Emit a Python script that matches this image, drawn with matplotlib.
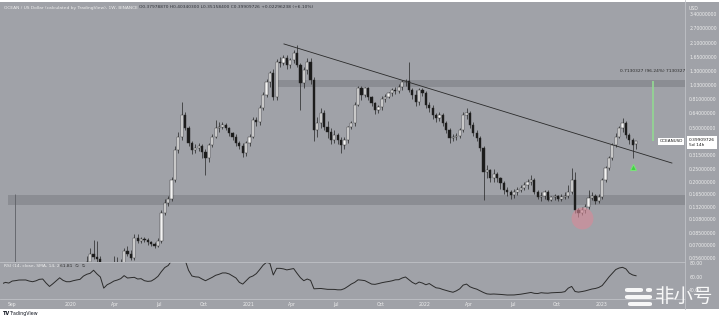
import pandas as pd
import matplotlib
matplotlib.use("Agg")
import matplotlib.pyplot as plt
import matplotlib.dates as mdates
import matplotlib.transforms as mtransforms
from matplotlib.patches import FancyBboxPatch, Rectangle

W, H = 719, 318

# weekly OCEAN/USD candles, first candle opens 2020-02-03
candle_start = "2020-02-03"
opens = [
    .050, .052, .060, .057, .055, .045, .025, .028, .032, .036,
    .040, .050, .063, .060, .056, .078, .075, .077, .076, .073,
    .071, .069, .074, .120, .142, .150, .208, .345, .430, .620,
    .500, .390, .345, .355, .370, .335, .300, .375, .430, .500,
    .510, .526, .500, .460, .430, .390, .370, .330, .390, .430,
    .570, .555, .700, .870, 1.085, 1.26, .840, 1.52, 1.50, 1.63,
    1.44, 1.57, 1.77, 1.44, 1.06, 1.33, 1.52, 1.12, .483, .544,
    .640, .510, .470, .410, .444, .410, .375, .410, .505, .544,
    .740, .980, .870, .980, .840, .760, .680, .710, .820, .840,
    .900, .950, .930, 1.00, 1.085, 1.10, .950, .870, .780, .950,
    .900, .740, .700, .620, .590, .620, .544, .483, .420, .430,
    .435, .483, .620, .640, .526, .460, .425, .357, .238, .245,
    .215, .232, .215, .198, .176, .170, .162, .170, .176, .182,
    .190, .200, .208, .170, .156, .160, .170, .149, .156, .158,
    .152, .157, .160, .170, .208, .126, .119, .126, .132, .153,
    .158, .145, .156, .208, .255, .300, .375, .430, .500, .544,
    .444, .405, .3798,
]
closes = [
    .052, .060, .057, .055, .045, .025, .028, .032, .036, .040,
    .050, .063, .060, .056, .078, .075, .077, .076, .073, .071,
    .069, .074, .120, .142, .150, .208, .345, .430, .620, .500,
    .390, .345, .355, .370, .335, .300, .375, .430, .500, .510,
    .526, .500, .460, .430, .390, .370, .330, .390, .430, .570,
    .555, .700, .870, 1.085, 1.26, .840, 1.52, 1.50, 1.63, 1.44,
    1.57, 1.77, 1.44, 1.06, 1.33, 1.52, 1.12, .483, .544, .640,
    .510, .470, .410, .444, .410, .375, .410, .505, .544, .740,
    .980, .870, .980, .840, .760, .680, .710, .820, .840, .900,
    .950, .930, 1.00, 1.085, 1.10, .950, .870, .780, .950, .900,
    .740, .700, .620, .590, .620, .544, .483, .420, .430, .435,
    .483, .620, .640, .526, .460, .425, .357, .238, .245, .215,
    .232, .215, .198, .176, .170, .162, .170, .176, .182, .190,
    .200, .208, .170, .156, .160, .170, .149, .156, .158, .152,
    .157, .160, .170, .208, .126, .119, .126, .132, .153, .158,
    .145, .156, .208, .255, .300, .375, .430, .500, .544, .444,
    .405, .376, .3991,
]
highs = [
    .058, .066, .076, .075, .058, .047, .032, .036, .058, .057,
    .055, .066, .068, .064, .084, .084, .080, .080, .079, .075,
    .073, .078, .125, .150, .160, .220, .370, .470, .780, .660,
    .520, .400, .380, .390, .380, .350, .390, .450, .570, .550,
    .550, .540, .510, .470, .450, .400, .390, .400, .450, .600,
    .600, .740, .920, 1.15, 1.30, 1.35, 1.60, 1.65, 1.70, 1.72,
    1.62, 1.85, 2.02, 1.50, 1.40, 1.62, 1.62, 1.18, .600, .700,
    .680, .560, .500, .480, .460, .430, .430, .520, .560, .780,
    1.02, 1.02, 1.00, 1.00, .860, .780, .740, .850, .880, .920,
    .980, 1.00, 1.05, 1.12, 1.15, 1.52, .980, .950, .980, .980,
    .930, .780, .740, .640, .650, .640, .560, .500, .450, .460,
    .500, .650, .700, .670, .550, .480, .440, .370, .270, .250,
    .250, .240, .220, .205, .185, .175, .180, .185, .190, .200,
    .210, .225, .215, .175, .170, .175, .175, .160, .165, .162,
    .165, .170, .190, .255, .240, .130, .132, .140, .175, .170,
    .165, .165, .215, .265, .310, .390, .460, .520, .590, .560,
    .460, .420, .4034,
]
lows = [
    .045, .050, .055, .050, .040, .020, .022, .027, .030, .034,
    .038, .048, .058, .054, .054, .072, .072, .073, .070, .068,
    .066, .067, .072, .115, .135, .145, .200, .330, .410, .480,
    .370, .320, .330, .340, .300, .227, .280, .360, .420, .470,
    .490, .480, .440, .410, .370, .350, .305, .310, .370, .420,
    .520, .530, .680, .840, 1.00, .800, .800, 1.40, 1.45, 1.35,
    1.38, 1.50, 1.40, .680, .980, 1.25, 1.05, .400, .430, .500,
    .480, .420, .380, .390, .380, .330, .350, .390, .490, .520,
    .720, .800, .840, .800, .720, .630, .640, .680, .780, .830,
    .860, .880, .900, .950, 1.02, .920, .820, .720, .740, .860,
    .700, .660, .580, .550, .560, .520, .460, .390, .400, .410,
    .420, .470, .580, .500, .440, .400, .340, .149, .215, .200,
    .200, .200, .180, .165, .160, .150, .155, .162, .170, .175,
    .180, .190, .165, .150, .145, .152, .145, .145, .148, .145,
    .146, .150, .155, .165, .120, .112, .115, .120, .128, .148,
    .140, .142, .152, .200, .245, .290, .360, .420, .470, .420,
    .380, .300, .3516,
]

# weekly RSI(14), first point 2019-08-12
rsi_start = "2019-08-12"
rsi_values = [
    50, 52, 51, 54, 54.6, 55.5, 55.6, 55.6, 54, 53,
    54.3, 56.5, 57, 51, 46, 50, 54.5, 58.8, 55, 53,
    53, 54.5, 55.6, 56.5, 61.3, 64, 65.5, 70, 64.5, 60,
    43.5, 48.5, 51, 54, 55.5, 57.5, 62, 58.5, 59, 59.5,
    57, 57.5, 54.5, 53.5, 54, 57, 61, 68, 74, 77,
    84, 90, 92, 92, 85, 70, 61.5, 60.2, 59.8, 57,
    54.5, 57, 59.5, 62.5, 64, 66, 66, 64.5, 61.5, 58.5,
    52, 49.5, 54.5, 59.5, 61.5, 65, 71, 77.5, 81.7, 80.3,
    63, 72.8, 72.8, 72, 70.5, 71.5, 72.5, 65.5, 59, 54.5,
    57, 55, 42.5, 42.8, 43, 42.3, 41.7, 41.7, 41.6, 41,
    41, 42.8, 46, 49.5, 52, 55.8, 55.3, 54.6, 52, 49.5,
    49.1, 50.2, 51.5, 52.5, 53.3, 54.3, 55.8, 56, 58.5, 60,
    56, 52, 49.5, 52.5, 51, 48.5, 50.3, 47, 44, 43.3,
    41.5, 40, 38.6, 37.4, 39.5, 42.5, 48, 49.5, 45.5, 43.5,
    42, 39.5, 37, 35, 34.5, 34.8, 34.5, 34.2, 33.7, 33.3,
    33.3, 33.4, 33.9, 34.5, 35.3, 36.2, 37.1, 35.8, 35.5, 36.7,
    36.2, 36, 36.6, 36.8, 37, 37.3, 38.3, 43.5, 46, 38.5,
    37.6, 38.4, 39.4, 40.8, 42.2, 43, 44.5, 47.3, 53.5, 60,
    65.5, 71, 73.3, 74.3, 72, 65.7, 63, 61.8,
]

# drawings on the chart
support_zone = ("2019-08-24", 0.137, 0.162)
support_edge = ("2019-09-08", 0.165)
resistance_zone = ("2021-03-04", 1.00, 1.12)
trend_dates = ["2021-03-16", "2023-05-26"]
trend_prices = [2.06, 0.277]
measure_date = "2023-04-17"
measure_prices = [0.3991, 1.112]
measure_label = "0.7130327 (96.24%) 7130327"
arrow_up = ("2023-03-07", 0.259)
circle_mark = ("2022-11-22", 0.110)

price_ticks = [3.40, 2.70, 2.10, 1.65, 1.30, 1.03, 0.81, 0.64, 0.50,
               0.315, 0.25, 0.20, 0.165, 0.132, 0.108, 0.085, 0.07, 0.056]
rsi_ticks = [80, 60, 40]
month_ticks = ["2019-09-01", "2020-01-01", "2020-04-01", "2020-07-01", "2020-10-01",
               "2021-01-01", "2021-04-01", "2021-07-01", "2021-10-01",
               "2022-01-01", "2022-04-01", "2022-07-01", "2022-10-01", "2023-01-01"]
month_labels = ["Sep", "2020", "Apr", "Jul", "Oct", "2021", "Apr", "Jul", "Oct",
                "2022", "Apr", "Jul", "Oct", "2023"]

title = "OCEAN / US Dollar (calculated by TradingView), 1W, BINANCE"
ohlc_text = "O0.37978870 H0.40340300 L0.35158400 C0.39909726 +0.02296238 (+6.10%)"
rsi_legend = "RSI (14, close, SMA, 14, 2)"
rsi_now = "61.81  \u2205  \u2205"

BG = "#a0a2a8"
BAND = "#85878d"
LINE = "#c0c2c7"
TXT = "#eeeeee"
DARK = "#242424"


def rect(x0, y0, x1, y1):
    return [x0 / W, 1 - y1 / H, (x1 - x0) / W, (y1 - y0) / H]


fig = plt.figure(figsize=(W / 100, H / 100), dpi=100, facecolor=BG)
fig.patches.append(Rectangle((0, 0), 1, 9 / H, transform=fig.transFigure,
                             facecolor="white", edgecolor="none", zorder=0))
fig.patches.append(Rectangle((0, 1 - 1.5 / H), 1, 1.5 / H, transform=fig.transFigure,
                             facecolor="white", edgecolor="none", zorder=0))

ax = fig.add_axes(rect(3, 5, 685, 262))
ax_rsi = fig.add_axes(rect(3, 262, 685, 299), sharex=ax)
for a in (ax, ax_rsi):
    a.set_facecolor(BG)
    for s in a.spines.values():
        s.set_visible(False)

# separators
fig.add_artist(plt.Line2D([685 / W, 685 / W], [9 / H, 1], color=LINE, lw=0.6))
fig.add_artist(plt.Line2D([0, 685 / W], [1 - 262 / H] * 2, color=LINE, lw=0.6))
fig.add_artist(plt.Line2D([0, 685 / W], [1 - 299 / H] * 2, color=LINE, lw=0.6))

dates = pd.date_range(candle_start, periods=len(closes), freq="7D")
x = mdates.date2num(dates)
xmin = mdates.date2num(pd.Timestamp("2019-08-14"))
xmax = mdates.date2num(pd.Timestamp("2023-06-22"))

ax.set_yscale("log")
ax.set_xlim(xmin, xmax)
ax.set_ylim(0.0523, 3.97)

# zones
s0 = mdates.date2num(pd.Timestamp(support_zone[0]))
ax.fill_between([s0, xmax], support_zone[1], support_zone[2], color=BAND, alpha=0.75, lw=0, zorder=1)
r0 = mdates.date2num(pd.Timestamp(resistance_zone[0]))
ax.fill_between([r0, xmax], resistance_zone[1], resistance_zone[2], color=BAND, alpha=0.75, lw=0, zorder=1)
ax.vlines(mdates.date2num(pd.Timestamp(support_edge[0])), 0.04, support_edge[1],
          color="#5e6066", lw=0.6, zorder=1)

# candles
up = [c >= o for o, c in zip(opens, closes)]
ax.vlines(x, lows, highs, color=DARK, lw=0.5, zorder=2)
bottoms = [min(o, c) for o, c in zip(opens, closes)]
heights = [max(abs(c - o), 0.004 * c) for o, c in zip(opens, closes)]
ax.bar(x, heights, bottom=bottoms, width=4.6,
       color=["#f4f4f4" if u else "#1b1b1b" for u in up],
       edgecolor=DARK, linewidth=0.3, zorder=3)

# trend line
ax.plot(mdates.date2num(pd.to_datetime(trend_dates)), trend_prices, color="#2a2a2a", lw=0.6, zorder=4)

# measure tool
md = mdates.date2num(pd.Timestamp(measure_date))
ax.vlines(md, measure_prices[0], measure_prices[1], color="#93d693", lw=1.4, alpha=0.9, zorder=4)
ax.text(md, 1.31, measure_label, fontsize=3.2, color="#2a2a2a", ha="center", va="center",
        clip_on=True, zorder=5)

# marks
ax.plot(mdates.date2num(pd.Timestamp(arrow_up[0])), arrow_up[1], marker="^", ms=4.5,
        color="#3fd23f", mec="#7be07b", mew=0.8, zorder=6)
ax.scatter(mdates.date2num(pd.Timestamp(circle_mark[0])), circle_mark[1], s=250,
           color="#d98a98", alpha=0.6, lw=0, zorder=5)

# price axis
ax.yaxis.tick_right()
ax.set_yticks(price_ticks)
ax.set_yticklabels([f"{v:.8f}" for v in price_ticks])
ax.yaxis.set_minor_locator(matplotlib.ticker.NullLocator())
ax.tick_params(axis="y", length=0, pad=3, labelsize=3.3, labelcolor=TXT)
ax.tick_params(axis="x", length=0, labelbottom=False)
fig.text(689 / W, 1 - 8 / H, "USD", fontsize=3.3, color=TXT, va="center")

# last price labels
trans = mtransforms.blended_transform_factory(ax.transAxes, ax.transData)
ax.annotate("0.39909726\n5d 14h", xy=(1, closes[-1]), xycoords=trans,
            xytext=(4, 3.5), textcoords="offset pixels", ha="left", va="top",
            fontsize=3.2, color="#1a1a1a", linespacing=1.5, annotation_clip=False,
            bbox=dict(boxstyle="square,pad=0.35", fc="white", ec="none"))
ax.annotate("OCEANUSD", xy=(1, closes[-1]), xycoords=trans,
            xytext=(-2, 0), textcoords="offset pixels", ha="right", va="center",
            fontsize=3.0, color="#1a1a1a", annotation_clip=False,
            bbox=dict(boxstyle="square,pad=0.3", fc="white", ec="none"))

# RSI pane
rsi_dates = pd.date_range(rsi_start, periods=len(rsi_values), freq="7D")
ax_rsi.plot(mdates.date2num(rsi_dates), rsi_values, color="#2b2b2b", lw=0.7)
ax_rsi.set_ylim(27.4, 82.2)
ax_rsi.yaxis.tick_right()
ax_rsi.set_yticks(rsi_ticks)
ax_rsi.set_yticklabels([f"{v:.2f}" for v in rsi_ticks])
ax_rsi.tick_params(axis="y", length=0, pad=3, labelsize=3.3, labelcolor=TXT)
ax_rsi.set_xticks(mdates.date2num(pd.to_datetime(month_ticks)))
ax_rsi.set_xticklabels(month_labels)
ax_rsi.tick_params(axis="x", length=0, pad=2.2, labelsize=3.3, labelcolor=TXT)
ax_rsi.text(0.002, 0.9, rsi_legend, transform=ax_rsi.transAxes, fontsize=3.2, color=TXT,
            ha="left", va="center")
ax_rsi.text(0.083, 0.9, rsi_now, transform=ax_rsi.transAxes, fontsize=3.2, color="#2b2b2b",
            ha="left", va="center")

# header
fig.text(4 / W, 1 - 7.5 / H, title, fontsize=3.2, color=TXT, va="center")
fig.text(139 / W, 1 - 7.5 / H, ohlc_text, fontsize=3.2, color="#30333a", va="center")

# footer
fig.text(3 / W, 1 - 313.5 / H, "TV", fontsize=3.6, weight="bold", color="#131722", va="center")
fig.text(10 / W, 1 - 313.5 / H, "TradingView", fontsize=3.4, color="#131722", va="center")

# watermark
for (x0, y0, x1, y1) in [(625, 288, 643, 292), (646, 288, 652, 292),
                         (625, 295, 652, 299), (628, 302, 652, 306)]:
    fig.patches.append(FancyBboxPatch((x0 / W, 1 - y1 / H), (x1 - x0) / W, (y1 - y0) / H,
                                      boxstyle="round,pad=0,rounding_size=0.004",
                                      transform=fig.transFigure, facecolor="white",
                                      edgecolor="none", alpha=0.92, zorder=10))
fig.text(684 / W, 1 - 296 / H, "非小号", fontsize=14, color="white", alpha=0.92,
         ha="center", va="center", family=["Noto Sans CJK SC", "DejaVu Sans"], zorder=10)

fig.savefig("out.png", dpi=100, facecolor=fig.get_facecolor())
